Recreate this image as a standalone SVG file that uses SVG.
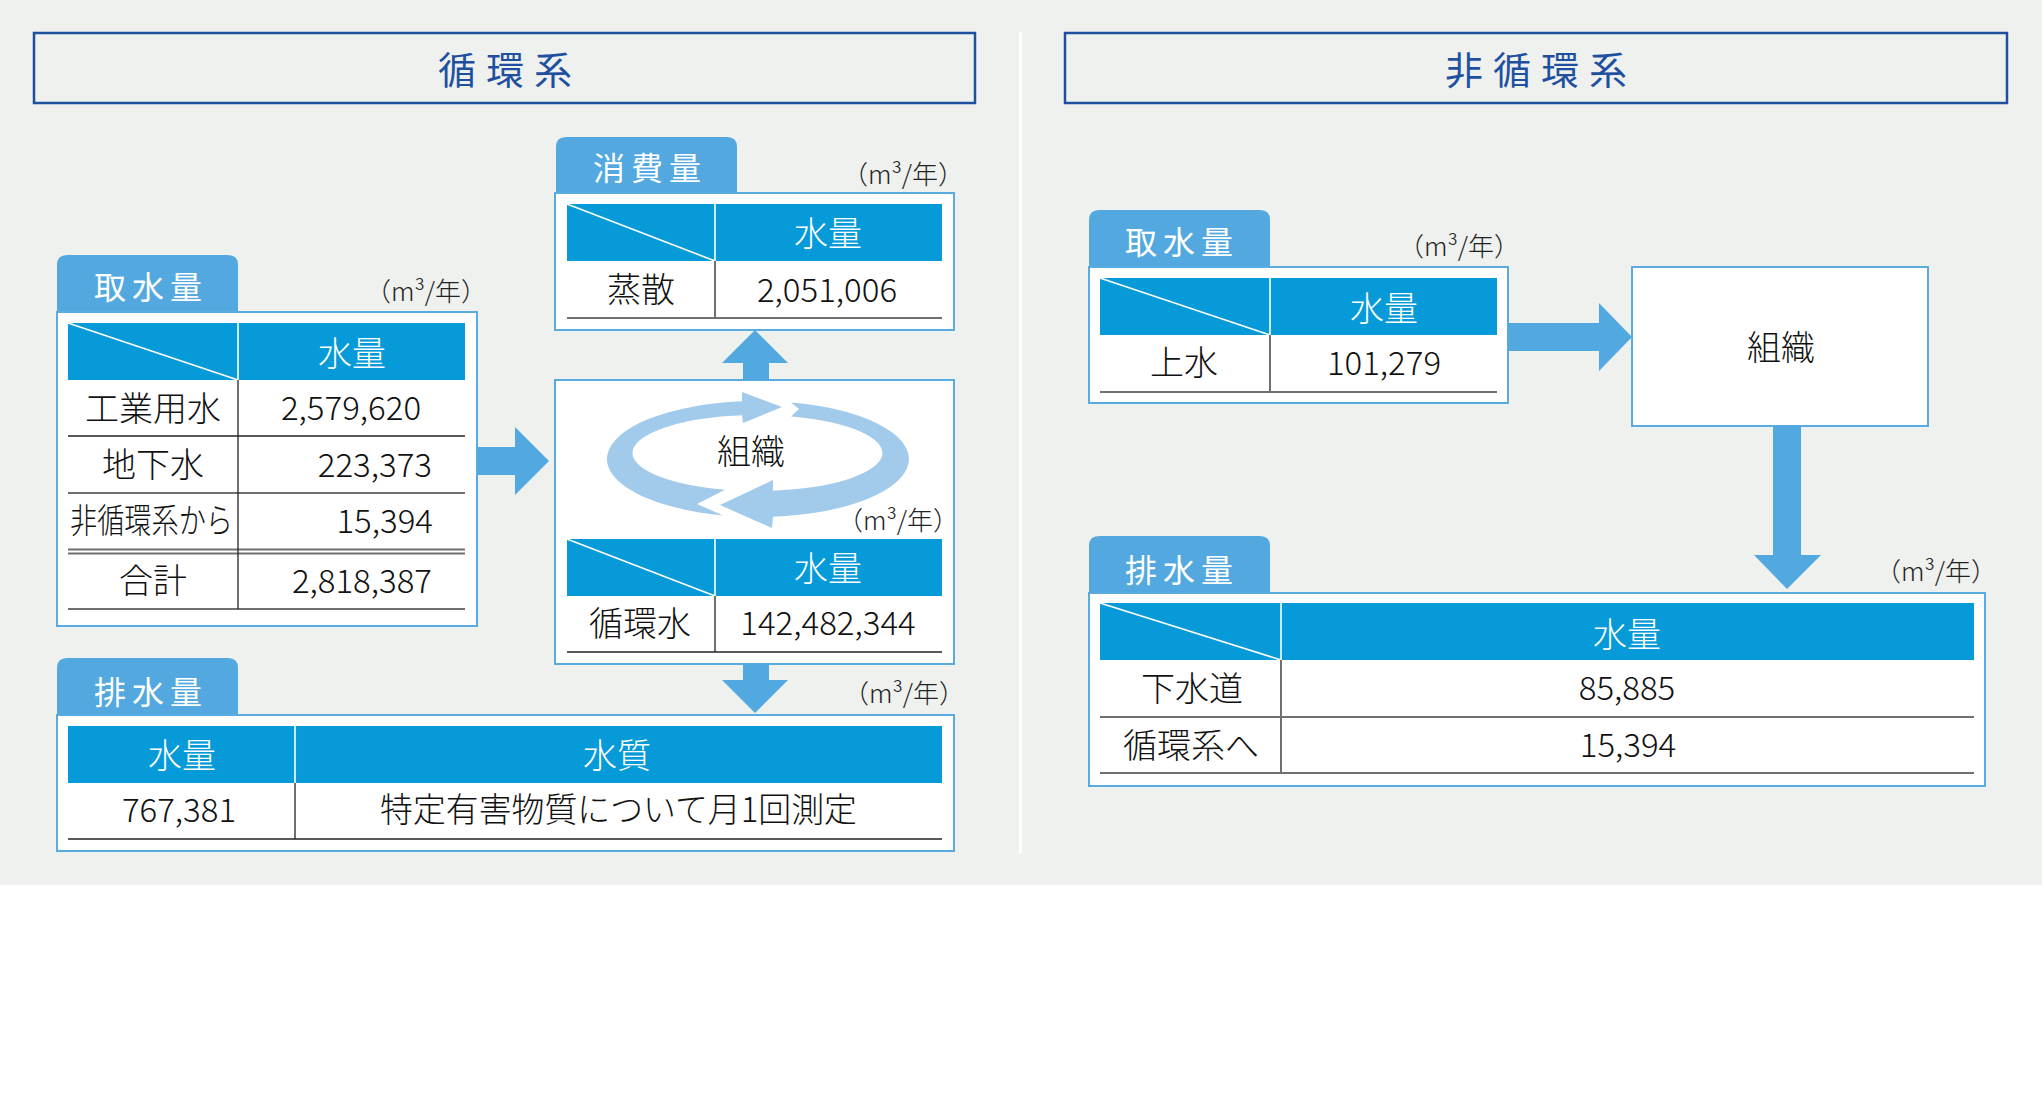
<svg xmlns="http://www.w3.org/2000/svg" width="2042" height="1111" viewBox="0 0 2042 1111">
<style>
text{font-family:"Noto Sans CJK JP","Noto Sans",sans-serif;font-weight:300}
.bg{fill:#eff1ef}
.title{fill:none;stroke:#1f50a0;stroke-width:2.5}
.tt{fill:#1f50a0;font-size:38px;letter-spacing:10px;text-anchor:middle;font-weight:400}
.tab{fill:#53a9df}
.tabt{fill:#fff;font-size:32px;letter-spacing:6px;text-anchor:middle;font-weight:400}
.box{fill:#fff;stroke:#5aabe0;stroke-width:2}
.hd{fill:#079ad8}
.hl{stroke:#fff;stroke-width:1.6}
.ht{fill:#fff;font-size:34px;text-anchor:middle}
.c{fill:#111;font-size:34px;text-anchor:middle}
.n{fill:#111;font-size:33px;text-anchor:middle}
.r{fill:#111;font-size:33px;text-anchor:end}
.u{fill:#222;font-size:26px;text-anchor:middle}
.gl{stroke:#707070;stroke-width:2.2}
.bl{stroke:#222;stroke-width:1.3}
.ar{fill:#52a9df}
.cy{fill:#a2caeb}
</style>
<rect x="0" y="0" width="2042" height="1111" fill="#fff"/>
<rect class="bg" x="0" y="0" width="2042" height="885"/>
<rect x="1019" y="32" width="3" height="821" fill="#fff"/>

<g id="title-left">
<rect class="title" x="34" y="33" width="941" height="70"/>
<text class="tt" x="510" y="84">循環系</text>
</g>
<g id="title-right">
<rect class="title" x="1065" y="33" width="942" height="70"/>
<text class="tt" x="1541" y="84">非循環系</text>
</g>

<g id="intake-left">
<path class="tab" d="M57,313 V265 Q57,255 67,255 H228 Q238,255 238,265 V313 Z"/>
<text class="tabt" x="151" y="299">取水量</text>
<text class="u" x="426" y="301">（m³/年）</text>
<rect class="box" x="57" y="312" width="420" height="314"/>
<rect class="hd" x="68" y="323" width="397" height="57"/>
<line class="hl" x1="238" y1="323" x2="238" y2="380"/>
<line class="hl" x1="68" y1="323" x2="238" y2="380"/>
<text class="ht" x="352" y="366">水量</text>
<text class="c" x="153" y="421">工業用水</text>
<text class="n" x="351" y="420">2,579,620</text>
<text class="c" x="153" y="477">地下水</text>
<text class="r" x="432" y="477">223,373</text>
<text x="70" y="533" font-size="34" fill="#111" textLength="163" lengthAdjust="spacingAndGlyphs">非循環系から</text>
<text class="r" x="433" y="533">15,394</text>
<text class="c" x="153" y="593">合計</text>
<text class="r" x="432" y="593">2,818,387</text>
<line class="bl" x1="68" y1="436" x2="465" y2="436"/>
<line class="gl" x1="68" y1="493" x2="465" y2="493"/>
<line class="gl" x1="68" y1="549.5" x2="465" y2="549.5" stroke-width="1.6"/>
<line class="gl" x1="68" y1="553.5" x2="465" y2="553.5" stroke-width="1.6"/>
<line class="gl" x1="68" y1="609" x2="465" y2="609"/>
<line class="bl" x1="238" y1="380" x2="238" y2="609"/>
</g>

<g id="consumption">
<path class="tab" d="M556,193 V147 Q556,137 566,137 H727 Q737,137 737,147 V193 Z"/>
<text class="tabt" x="650" y="180">消費量</text>
<text class="u" x="903" y="184">（m³/年）</text>
<rect class="box" x="555" y="193" width="399" height="137"/>
<rect class="hd" x="567" y="204" width="375" height="57"/>
<line class="hl" x1="715" y1="204" x2="715" y2="261"/>
<line class="hl" x1="567" y1="204" x2="715" y2="261"/>
<text class="ht" x="828" y="246">水量</text>
<text class="c" x="641" y="302">蒸散</text>
<text class="n" x="827" y="302">2,051,006</text>
<line class="bl" x1="715" y1="261" x2="715" y2="318"/>
<line class="gl" x1="567" y1="318" x2="942" y2="318"/>
</g>

<g id="organization-cycle">
<rect class="box" x="555" y="380" width="399" height="284"/>
<path class="cy" d="M723,515.4 A151,58 0 0 1 742,401.3 L742,392 L782,407 L743,423 L742,415.3 A125,38 0 0 0 725,489.7 L697,504 Z"/>
<path class="cy" d="M791,402.4 A151,58 0 0 1 773,516.7 L772,528 L720,505 L773,480 L773,490.7 A125,38 0 0 0 791,416.4 L799,409 Z"/>
<text class="c" x="751" y="464" font-size="32">組織</text>
<text class="u" x="898" y="530">（m³/年）</text>
<rect class="hd" x="567" y="539" width="375" height="57"/>
<line class="hl" x1="715" y1="539" x2="715" y2="596"/>
<line class="hl" x1="567" y1="539" x2="715" y2="596"/>
<text class="ht" x="828" y="581">水量</text>
<text class="c" x="640" y="636">循環水</text>
<text class="n" x="828" y="635">142,482,344</text>
<line class="bl" x1="715" y1="596" x2="715" y2="652"/>
<line class="bl" x1="567" y1="652" x2="942" y2="652" stroke-width="1.8"/>
</g>

<g id="discharge-left">
<path class="tab" d="M57,716 V668 Q57,658 67,658 H228 Q238,658 238,668 V716 Z"/>
<text class="tabt" x="151" y="704">排水量</text>
<text class="u" x="904" y="703">（m³/年）</text>
<rect class="box" x="57" y="715" width="897" height="136"/>
<rect class="hd" x="68" y="726" width="874" height="57"/>
<line class="hl" x1="295" y1="726" x2="295" y2="783"/>
<text class="ht" x="182" y="768">水量</text>
<text class="ht" x="617" y="768">水質</text>
<text class="n" x="179" y="822">767,381</text>
<text x="380" y="822" font-size="34" fill="#111" textLength="477" lengthAdjust="spacingAndGlyphs">特定有害物質について月1回測定</text>
<line class="bl" x1="295" y1="783" x2="295" y2="839"/>
<line class="bl" x1="68" y1="839" x2="942" y2="839" stroke-width="1.8"/>
</g>

<g id="intake-right">
<path class="tab" d="M1089,268 V220 Q1089,210 1099,210 H1260 Q1270,210 1270,220 V268 Z"/>
<text class="tabt" x="1182" y="254">取水量</text>
<text class="u" x="1459" y="256">（m³/年）</text>
<rect class="box" x="1089" y="267" width="419" height="136"/>
<rect class="hd" x="1100" y="278" width="397" height="57"/>
<line class="hl" x1="1270" y1="278" x2="1270" y2="335"/>
<line class="hl" x1="1100" y1="278" x2="1270" y2="335"/>
<text class="ht" x="1384" y="321">水量</text>
<text class="c" x="1184" y="375">上水</text>
<text class="n" x="1384" y="375">101,279</text>
<line class="bl" x1="1270" y1="335" x2="1270" y2="392"/>
<line class="gl" x1="1100" y1="392" x2="1497" y2="392"/>
</g>

<g id="organization-right">
<rect class="box" x="1632" y="267" width="296" height="159"/>
<text class="c" x="1781" y="360" font-size="32">組織</text>
</g>

<g id="discharge-right">
<path class="tab" d="M1089,594 V546 Q1089,536 1099,536 H1260 Q1270,536 1270,546 V594 Z"/>
<text class="tabt" x="1182" y="582">排水量</text>
<text class="u" x="1936" y="581">（m³/年）</text>
<rect class="box" x="1089" y="593" width="896" height="193"/>
<rect class="hd" x="1100" y="603" width="874" height="57"/>
<line class="hl" x1="1281" y1="603" x2="1281" y2="660"/>
<line class="hl" x1="1100" y1="603" x2="1281" y2="660"/>
<text class="ht" x="1627" y="647">水量</text>
<text class="c" x="1192" y="701">下水道</text>
<text class="n" x="1627" y="700">85,885</text>
<text class="c" x="1191" y="758">循環系へ</text>
<text class="n" x="1628" y="757">15,394</text>
<line class="bl" x1="1281" y1="660" x2="1281" y2="773"/>
<line class="gl" x1="1100" y1="717" x2="1974" y2="717"/>
<line class="gl" x1="1100" y1="773" x2="1974" y2="773"/>
</g>

<g id="connectors">
<polygon class="ar" points="477,447 515,447 515,427 549,461 515,495 515,475 477,475"/>
<polygon class="ar" points="743,380 743,363 722,363 755,330 788,363 769,363 769,380"/>
<polygon class="ar" points="743,664 743,680 722,680 755,713 788,680 769,680 769,664"/>
<polygon class="ar" points="1508,323 1599,323 1599,303 1632,337 1599,371 1599,351 1508,351"/>
<polygon class="ar" points="1773,426 1773,555 1754,555 1787,589 1821,555 1801,555 1801,426"/>
</g>
</svg>
